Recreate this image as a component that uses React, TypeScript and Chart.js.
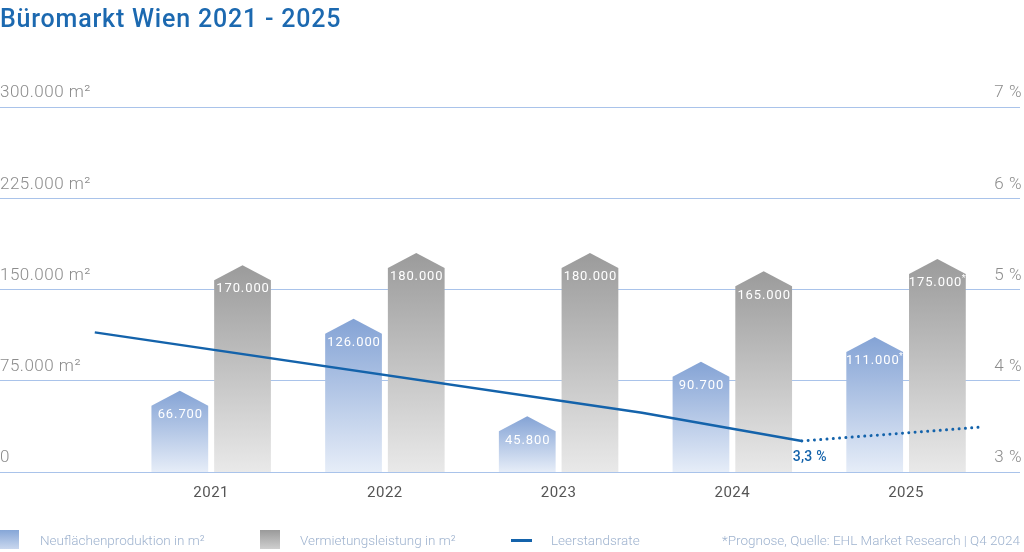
import React, { useEffect, useRef } from 'react';
import { Chart, registerables } from 'chart.js';

Chart.register(...registerables);

// ---- Data ----
const years = [2021, 2022, 2023, 2024, 2025];
const neuflaechen = [66700, 126000, 45800, 90700, 111000];
const vermietung = [170000, 180000, 180000, 165000, 175000];
const neuLabels = ['66.700', '126.000', '45.800', '90.700', '111.000*'];
const verLabels = ['170.000', '180.000', '180.000', '165.000', '175.000*'];
const rateX = [2020.33, 2023.48, 2024.4];
const rateY = [4.53, 3.65, 3.34];
const forecastX = [2024.4, 2025.42];
const forecastY = [3.34, 3.49];
const rateLabel = '3,3 %';
const leftTickValues = [0, 75000, 150000, 225000, 300000];
const rightTickValues = [3, 4, 5, 6, 7];
const title = 'Büromarkt Wien 2021 - 2025';
const legendItems = ['Neuflächenproduktion in m²', 'Vermietungsleistung in m²', 'Leerstandsrate'];
const footnote = '*Prognose, Quelle: EHL Market Research | Q4 2024';

const BLUE_LINE = '#1463ab';
const FONT = 'Roboto, "Open Sans", sans-serif';

const housePlugin = {
  id: 'houses',
  beforeDraw(chart: any) {
    (chart.ctx as any).letterSpacing = '0.5px';
  },
  beforeDatasetsDraw(chart: any) {
    const ctx = chart.ctx as CanvasRenderingContext2D;
    const base = chart.scales.y.getPixelForValue(0);
    const specs = [
      { idx: 0, top: '#84a3d5', bottom: '#e6edf8', labels: neuLabels },
      { idx: 1, top: '#9b9b9b', bottom: '#e9e9e9', labels: verLabels },
    ];
    const roof = 15;
    specs.forEach((s) => {
      const meta = chart.getDatasetMeta(s.idx);
      meta.data.forEach((el: any, i: number) => {
        const { x, y, width } = el.getProps(['x', 'y', 'width'], true);
        const l = x - width / 2;
        const r = x + width / 2;
        const grad = ctx.createLinearGradient(0, y, 0, base);
        grad.addColorStop(0, s.top);
        grad.addColorStop(1, s.bottom);
        ctx.save();
        ctx.fillStyle = grad;
        ctx.beginPath();
        ctx.moveTo(l, base);
        ctx.lineTo(l, y + roof);
        ctx.lineTo(x, y);
        ctx.lineTo(r, y + roof);
        ctx.lineTo(r, base);
        ctx.closePath();
        ctx.fill();

        // label
        const label = s.labels[i];
        const star = label.endsWith('*');
        const main = star ? label.slice(0, -1) : label;
        ctx.fillStyle = '#ffffff';
        ctx.textBaseline = 'middle';
        ctx.textAlign = 'left';
        (ctx as any).letterSpacing = '0.9px';
        ctx.font = `400 13px ${FONT}`;
        const wMain = ctx.measureText(main).width;
        ctx.font = `400 9px ${FONT}`;
        const wStar = star ? ctx.measureText('*').width : 0;
        const start = x - (wMain + wStar) / 2 + 0.5;
        ctx.font = `400 13px ${FONT}`;
        ctx.fillText(main, start, y + 24);
        if (star) {
          ctx.font = `400 9px ${FONT}`;
          ctx.fillText('*', start + wMain - 0.5, y + 20);
        }
        ctx.restore();
      });
    });
  },
  afterDatasetsDraw(chart: any) {
    const ctx = chart.ctx as CanvasRenderingContext2D;
    const px = chart.scales.x.getPixelForValue(rateX[rateX.length - 1]);
    const py = chart.scales.y2.getPixelForValue(rateY[rateY.length - 1]);
    ctx.save();
    (ctx as any).letterSpacing = '0.3px';
    ctx.fillStyle = BLUE_LINE;
    ctx.font = `500 14px ${FONT}`;
    ctx.textAlign = 'center';
    ctx.textBaseline = 'middle';
    ctx.fillText(rateLabel, px + 8, py + 17);
    ctx.restore();
  },
};

const xPxFirst = 212;
const xPxStep = 174.4;
const xMin = years[0] - xPxFirst / xPxStep;
const xMax = years[0] + (1024 - xPxFirst) / xPxStep;

export default function App() {
  const ref = useRef<HTMLCanvasElement>(null);

  useEffect(() => {
    if (!ref.current) return;
    const chart = new Chart(ref.current, {
      type: 'bar',
      data: {
        datasets: [
          {
            type: 'bar',
            label: legendItems[0],
            data: years.map((y, i) => ({ x: y, y: neuflaechen[i] })),
            backgroundColor: 'rgba(0,0,0,0)',
            categoryPercentage: 0.722,
            barPercentage: 0.905,
            xAxisID: 'x',
            yAxisID: 'y',
          },
          {
            type: 'bar',
            label: legendItems[1],
            data: years.map((y, i) => ({ x: y, y: vermietung[i] })),
            backgroundColor: 'rgba(0,0,0,0)',
            categoryPercentage: 0.722,
            barPercentage: 0.905,
            xAxisID: 'x',
            yAxisID: 'y',
          },
          {
            type: 'line',
            label: legendItems[2],
            data: rateX.map((x, i) => ({ x, y: rateY[i] })),
            borderColor: BLUE_LINE,
            borderWidth: 2.5,
            pointRadius: 0,
            tension: 0,
            fill: false,
            xAxisID: 'x',
            yAxisID: 'y2',
          },
          {
            type: 'line',
            label: 'Prognose',
            data: forecastX.map((x, i) => ({ x, y: forecastY[i] })),
            borderColor: BLUE_LINE,
            borderWidth: 3,
            borderDash: [0.01, 6.3],
            borderCapStyle: 'round',
            pointRadius: 0,
            tension: 0,
            fill: false,
            xAxisID: 'x',
            yAxisID: 'y2',
          },
        ] as any,
      },
      options: {
        animation: false,
        responsive: false,
        layout: { padding: { top: 107, bottom: 38, left: 0, right: 0 } },
        plugins: { legend: { display: false }, tooltip: { enabled: false } },
        scales: {
          x: {
            type: 'linear',
            offset: false,
            min: xMin,
            max: xMax,
            afterBuildTicks: (axis: any) => {
              axis.ticks = years.map((v) => ({ value: v }));
            },
            ticks: {
              callback: (v: any) => String(v),
              color: '#555555',
              font: { family: FONT, size: 15 },
              padding: 12,
              maxRotation: 0,
              autoSkip: false,
            },
            grid: { display: false, drawTicks: false, offset: false },
            border: { display: false },
          },
          y: {
            type: 'linear',
            position: 'left',
            min: 0,
            max: 300000,
            afterBuildTicks: (axis: any) => {
              axis.ticks = leftTickValues.map((v) => ({ value: v }));
            },
            ticks: {
              mirror: true,
              padding: 0,
              labelOffset: -14,
              color: '#8c8c8c',
              font: { family: FONT, size: 17, weight: '300' },
              callback: (v: any) => (v === 0 ? '0' : Number(v).toLocaleString('de-DE') + ' m²'),
            },
            grid: { color: '#a9c3ea', lineWidth: 1, drawTicks: false },
            border: { display: false },
          },
          y2: {
            type: 'linear',
            position: 'right',
            min: 3,
            max: 7,
            afterBuildTicks: (axis: any) => {
              axis.ticks = rightTickValues.map((v) => ({ value: v }));
            },
            ticks: {
              mirror: true,
              padding: 2,
              labelOffset: -14,
              color: '#8c8c8c',
              font: { family: FONT, size: 17, weight: '300' },
              callback: (v: any) => `${v} %`,
            },
            grid: { display: false, drawTicks: false },
            border: { display: false },
          },
        },
      } as any,
      plugins: [housePlugin],
    });
    return () => chart.destroy();
  }, []);

  const legendText: React.CSSProperties = {
    position: 'absolute',
    top: 531,
    fontFamily: FONT,
    fontSize: 13.5,
    fontWeight: 300,
    color: '#9fb3cf',
    lineHeight: '18px',
    whiteSpace: 'nowrap',
  };

  return (
    <div style={{ position: 'fixed', left: 0, top: 0, width: 1024, height: 552, background: '#fff', overflow: 'hidden' }}>
      <canvas ref={ref} width={1024} height={552} style={{ position: 'absolute', left: 0, top: 0 }} />
      <div
        style={{
          position: 'absolute',
          left: 0,
          top: 5,
          fontFamily: FONT,
          fontSize: 25,
          fontWeight: 500,
          letterSpacing: '0.8px',
          color: '#1c69b0',
          lineHeight: '28px',
          whiteSpace: 'nowrap',
        }}
      >
        {title}
      </div>
      <div style={{ position: 'absolute', left: 0, top: 530, width: 19, height: 19, background: 'linear-gradient(#86a6d7, #c9d7ee)' }} />
      <div style={{ ...legendText, left: 40 }}>{legendItems[0]}</div>
      <div style={{ position: 'absolute', left: 260, top: 530, width: 20, height: 19, background: 'linear-gradient(#9a9a9a, #cfcfcf)' }} />
      <div style={{ ...legendText, left: 300 }}>{legendItems[1]}</div>
      <div style={{ position: 'absolute', left: 511, top: 539, width: 21, height: 3, background: BLUE_LINE }} />
      <div style={{ ...legendText, left: 551 }}>{legendItems[2]}</div>
      <div style={{ ...legendText, right: 4 }}>{footnote}</div>
    </div>
  );
}
